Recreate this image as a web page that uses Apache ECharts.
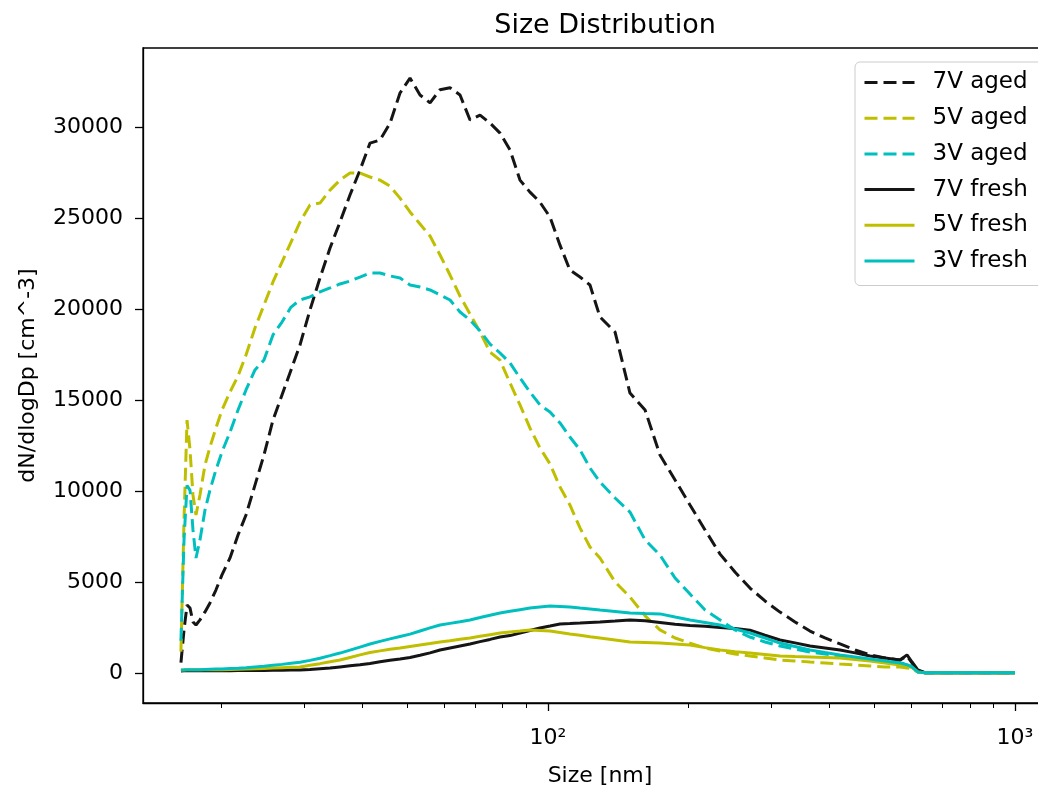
<!DOCTYPE html>
<html>
<head>
<meta charset="utf-8">
<title>Size Distribution</title>
<script src="https://cdn.jsdelivr.net/npm/echarts@6/dist/echarts.min.js"></script>
<style>
	html, body { margin: 0; padding: 0; background: #fff; }
	#chart { width: 1038px; height: 790px; }
</style>
</head>
<body>
<div id="chart"></div>
<script>
//particle sizes [nm], shared by all six scans
var sizes = [
	16.37, 16.62, 16.87, 17.12, 17.37, 17.63, 17.98, 18.43, 18.89, 19.45,
	20.04, 20.85, 21.69, 22.56, 23.58, 24.65, 25.77, 26.94, 28.17, 29.44,
	30.93, 32.49, 34.14, 35.86, 37.67, 39.58, 41.58, 43.68, 45.89, 48.21,
	50.65, 53.21, 55.90, 58.72, 61.69, 64.81, 68.08, 71.53, 75.14, 78.94,
	82.93, 87.10, 91.50, 96.10, 101.0, 106.1, 111.4, 117.1, 123.0, 129.2,
	139.2, 149.8, 161.4, 173.7, 187.1, 201.4, 216.9, 233.6, 251.4, 270.7,
	291.5, 313.9, 338.0, 363.9, 391.8, 422.0, 454.4, 489.2, 526.7, 567.2,
	587.1, 601.8, 619.8, 641.6, 690.9, 801.0, 1000
];

//dN/dlogDp [cm^-3]
var aged7V = [
	600, 2390, 3760, 3590, 2830, 2660, 2940, 3380, 3870, 4580,
	5410, 6340, 7600, 8700, 10340, 11990, 13910, 15280, 16660, 18030,
	19950, 21710, 23350, 24780, 26260, 27630, 29110, 29280, 30200, 31860,
	32680, 31750, 31320, 32040, 32150, 31750, 30380, 30650, 30210, 29660,
	28730, 27080, 26420, 25870, 25050, 23510, 22140, 21760, 21320, 19570,
	18740, 15390, 14460, 11990, 10620, 9250, 7880, 6550, 5570, 4690,
	3980, 3370, 2830, 2330, 1950, 1620, 1290, 1020, 850, 740,
	960, 580, 140, 40, 35, 40, 40
];
var aged5V = [
	1200, 8420, 13910, 12270, 9800, 8700, 9800, 11440, 12430, 13470,
	14460, 15450, 16330, 17480, 18960, 20220, 21490, 22580, 23680, 24780,
	25710, 25820, 26530, 27080, 27470, 27470, 27250, 27080, 26750, 26090,
	25330, 24670, 24010, 22970, 21870, 20710, 19730, 18740, 17640, 17200,
	15940, 14740, 13470, 12380, 11500, 10240, 9250, 7990, 6940, 6340,
	5020, 4200, 3160, 2390, 1950, 1670, 1400, 1230, 1070, 960,
	850, 740, 690, 630, 580, 520, 470, 410, 360, 360,
	300, 250, 80, 40, 35, 40, 40
];
var aged3V = [
	1800, 7330, 10320, 10050, 7880, 6340, 7330, 8970, 10070, 11170,
	12160, 13250, 14460, 15560, 16660, 17200, 18580, 19290, 20110, 20500,
	20670, 20940, 21160, 21380, 21540, 21760, 21980, 21980, 21820, 21710,
	21320, 21210, 21050, 20780, 20500, 19840, 19400, 18800, 18080, 17590,
	17040, 16220, 15450, 14740, 14350, 13750, 12980, 12270, 11280, 10510,
	9630, 8860, 7330, 6500, 5240, 4360, 3480, 2940, 2390, 2000,
	1730, 1510, 1340, 1180, 1070, 960, 850, 740, 690, 580,
	520, 360, 80, 40, 40, 40, 40
];
var fresh7V = [
	140, 150, 150, 150, 150, 150, 150, 150, 150, 150,
	150, 150, 160, 160, 170, 170, 180, 180, 190, 190,
	220, 260, 300, 360, 420, 480, 550, 640, 730, 800,
	880, 1000, 1130, 1290, 1400, 1510, 1620, 1750, 1870, 2000,
	2080, 2220, 2360, 2500, 2610, 2720, 2740, 2770, 2800, 2830,
	2880, 2940, 2900, 2800, 2700, 2640, 2590, 2530, 2470, 2380,
	2100, 1840, 1680, 1510, 1400, 1290, 1130, 960, 850, 740,
	1020, 630, 190, 40, 35, 40, 40
];
var fresh5V = [
	190, 190, 200, 200, 200, 200, 200, 200, 200, 210,
	210, 220, 230, 240, 260, 280, 300, 320, 340, 360,
	450, 540, 640, 740, 880, 1020, 1150, 1240, 1330, 1400,
	1480, 1560, 1640, 1730, 1800, 1880, 1950, 2040, 2130, 2220,
	2280, 2330, 2390, 2360, 2330, 2250, 2170, 2100, 2020, 1950,
	1840, 1730, 1700, 1670, 1620, 1560, 1420, 1290, 1200, 1120,
	1040, 960, 930, 910, 880, 850, 770, 690, 580, 470,
	400, 330, 80, 40, 40, 35, 40
];
var fresh3V = [
	190, 200, 210, 210, 210, 210, 210, 220, 230, 240,
	250, 270, 290, 320, 360, 400, 450, 500, 560, 620,
	720, 840, 980, 1120, 1280, 1450, 1620, 1760, 1900, 2030,
	2160, 2330, 2500, 2660, 2750, 2840, 2940, 3070, 3200, 3320,
	3410, 3500, 3590, 3650, 3700, 3680, 3650, 3590, 3540, 3480,
	3400, 3320, 3290, 3270, 3100, 2940, 2800, 2660, 2440, 2220,
	1950, 1670, 1480, 1290, 1150, 1020, 910, 800, 690, 580,
	480, 360, 80, 40, 40, 40, 40
];

var seriesNames = [ '7V aged', '5V aged', '3V aged', '7V fresh', '5V fresh', '3V fresh' ];
var yTicks = [ 0, 5000, 10000, 15000, 20000, 25000, 30000 ];
var xMajorTicks = [ 100, 1000 ];
var xMinorTicks = [ 20, 30, 40, 50, 60, 70, 80, 90, 200, 300, 400, 500, 600, 700, 800, 900 ];

var FONT = 'DejaVu Sans';
var BLACK = '#151515', YELLOW = '#bfbf00', CYAN = '#00bfbf';
var DASH = [ 13, 6 ];

//log10 of size goes on a plain value axis
function toPairs( values )
{
	return sizes.map( function( s, i ){ return [ Math.log10( s ), values[ i ] ]; } );
}
function toLog( list )
{
	return list.map( function( v ){ return Math.log10( v ); } );
}
var SUP = { '0':'⁰', '1':'¹', '2':'²', '3':'³', '4':'⁴' };

function makeSeries( name, values, color, dashed )
{
	return {
		name: name,
		type: 'line',
		data: toPairs( values ),
		showSymbol: false,
		symbol: 'none',
		smooth: false,
		lineStyle: { color: color, width: 3, type: dashed ? DASH : 'solid' },
		itemStyle: { color: color },
		emphasis: { disabled: true }
	};
}

var xMin = 1.1328, xMax = 3.0899;

var chart = echarts.init( document.getElementById( 'chart' ), null, { renderer: 'canvas' } );
chart.setOption({
	animation: false,
	backgroundColor: '#ffffff',
	title: {
		text: 'Size Distribution',
		left: 600,
		top: 7,
		textAlign: 'center',
		textStyle: { fontFamily: FONT, fontSize: 27, fontWeight: 'normal', color: '#000' }
	},
	grid: {
		left: 143,
		top: 48,
		width: 914,
		height: 655,
		outerBoundsMode: 'none',
		containLabel: false,
		show: true,
		borderColor: '#000',
		borderWidth: 1.3,
		backgroundColor: 'transparent'
	},
	legend: {
		orient: 'vertical',
		left: 855,
		top: 62,
		data: seriesNames,
		itemWidth: 50,
		itemHeight: 14,
		itemGap: 10.7,
		padding: [ 8, 20, 12, 8 ],
		backgroundColor: 'rgba(255,255,255,0.8)',
		borderColor: '#cccccc',
		borderWidth: 1,
		borderRadius: 5,
		selectedMode: false,
		itemStyle: { color: 'transparent', borderWidth: 0, opacity: 0 },
		lineStyle: { width: 3 },
		textStyle: { fontFamily: FONT, fontSize: 23, color: '#000', lineHeight: 25, padding: [ 0, 0, 0, 13 ] }
	},
	xAxis: [
		{
			type: 'value',
			min: xMin,
			max: xMax,
			position: 'bottom',
			name: 'Size [nm]',
			nameLocation: 'middle',
			nameGap: 62,
			nameTextStyle: { fontFamily: FONT, fontSize: 22, color: '#000' },
			splitLine: { show: false },
			axisLine: { show: true, onZero: false, lineStyle: { color: '#000', width: 1.3 } },
			axisTick: { show: true, length: 8, customValues: toLog( xMajorTicks ), lineStyle: { color: '#000', width: 1.3 } },
			axisLabel: {
				customValues: toLog( xMajorTicks ),
				margin: 24,
				fontFamily: FONT,
				fontSize: 22,
				color: '#000',
				formatter: function( v ){
					var p = String( Math.round( v ) );
					return '10' + p.split( '' ).map( function( c ){ return SUP[ c ]; } ).join( '' );
				}
			}
		},
		{
			//minor ticks only
			type: 'value',
			min: xMin,
			max: xMax,
			position: 'bottom',
			splitLine: { show: false },
			axisLine: { show: false, onZero: false },
			axisTick: { show: true, length: 5, customValues: toLog( xMinorTicks ), lineStyle: { color: '#000', width: 1 } },
			axisLabel: { show: false }
		}
	],
	yAxis: {
		type: 'value',
		min: -1620,
		max: 34330,
		name: 'dN/dlogDp [cm^-3]',
		nameLocation: 'middle',
		nameGap: 104,
		nameTextStyle: { fontFamily: FONT, fontSize: 22, color: '#000' },
		splitLine: { show: false },
		axisLine: { show: true, onZero: false, lineStyle: { color: '#000', width: 1.3 } },
		axisTick: { show: true, length: 8, customValues: yTicks, lineStyle: { color: '#000', width: 1.3 } },
		axisLabel: {
			customValues: yTicks,
			margin: 20,
			fontFamily: FONT,
			fontSize: 22,
			color: '#000',
			formatter: function( v ){ return String( v ); }
		}
	},
	series: [
		makeSeries( seriesNames[ 0 ], aged7V, BLACK, true ),
		makeSeries( seriesNames[ 1 ], aged5V, YELLOW, true ),
		makeSeries( seriesNames[ 2 ], aged3V, CYAN, true ),
		makeSeries( seriesNames[ 3 ], fresh7V, BLACK, false ),
		makeSeries( seriesNames[ 4 ], fresh5V, YELLOW, false ),
		makeSeries( seriesNames[ 5 ], fresh3V, CYAN, false )
	]
});
</script>
</body>
</html>
